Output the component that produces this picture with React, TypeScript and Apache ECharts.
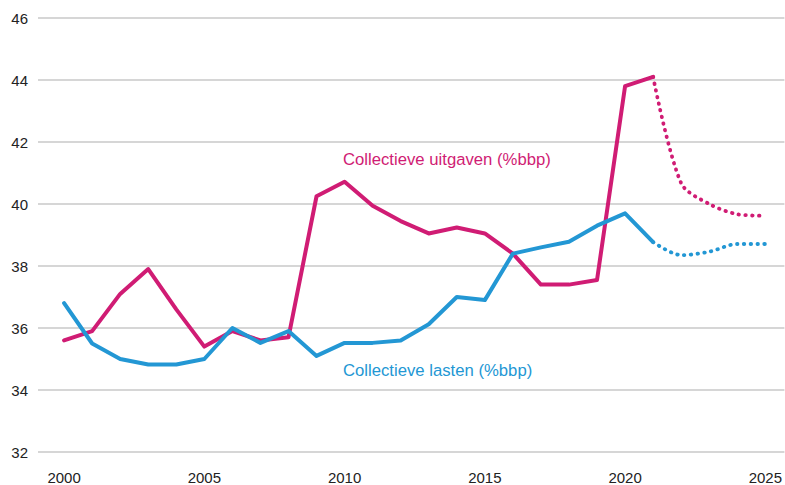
import React, { useEffect, useRef } from "react";
import * as echarts from "echarts";

const years = [2000, 2001, 2002, 2003, 2004, 2005, 2006, 2007, 2008, 2009, 2010, 2011, 2012, 2013, 2014, 2015, 2016, 2017, 2018, 2019, 2020, 2021];
const uitgaven = [35.6, 35.9, 37.1, 37.9, 36.6, 35.4, 35.9, 35.6, 35.7, 40.25, 40.72, 39.94, 39.45, 39.05, 39.24, 39.05, 38.4, 37.4, 37.4, 37.55, 43.8, 44.1];
const lasten = [36.8, 35.5, 35.0, 34.82, 34.82, 35.0, 36.0, 35.52, 35.9, 35.1, 35.52, 35.52, 35.6, 36.12, 37.0, 36.9, 38.4, 38.6, 38.78, 39.3, 39.7, 38.77];
const forecastYears = [2021, 2022, 2023, 2024, 2025];
const uitgavenForecast = [44.1, 40.67, 40.0, 39.67, 39.62];
const lastenForecast = [38.77, 38.35, 38.46, 38.71, 38.71];
const xTickLabels = [2000, 2005, 2010, 2015, 2020, 2025];
const yTicks = [32, 34, 36, 38, 40, 42, 44, 46];

const MAGENTA = "#d01c74";
const BLUE = "#2397d4";

export default function App() {
  const ref = useRef<HTMLDivElement>(null);
  useEffect(() => {
    if (!ref.current) return;
    const chart = echarts.init(ref.current, null, { renderer: "svg" });
    const pair = (xs: number[], ys: number[]) => xs.map((x, i) => [x, ys[i]]);
    chart.setOption({
      animation: false,
      grid: { left: 38, right: 0, top: 18, bottom: 33, containLabel: false },
      xAxis: {
        type: "value",
        min: 1999.07,
        max: 2025.68,
        axisLine: { show: false },
        axisTick: { show: false },
        splitLine: { show: false },
        axisLabel: {
          customValues: xTickLabels,
          margin: 18,
          fontSize: 15,
          color: "#222",
          fontFamily: "Liberation Sans, Arial, sans-serif",
          formatter: (v: number) => String(Math.round(v)),
        },
      },
      yAxis: {
        type: "value",
        min: 32,
        max: 46,
        interval: 2,
        axisLine: { show: false },
        axisTick: { show: false },
        axisLabel: {
          customValues: yTicks,
          margin: 10,
          fontSize: 15,
          color: "#222",
          fontFamily: "Liberation Sans, Arial, sans-serif",
        },
        splitLine: { lineStyle: { color: "#d6d6d6", width: 2 } },
      },
      series: [
        {
          type: "line",
          data: pair(years, uitgaven),
          showSymbol: false,
          lineStyle: { color: MAGENTA, width: 4, cap: "round", join: "round" },
        },
        {
          type: "line",
          data: pair(years, lasten),
          showSymbol: false,
          lineStyle: { color: BLUE, width: 4, cap: "round", join: "round" },
        },
        {
          type: "line",
          data: pair(forecastYears, uitgavenForecast),
          showSymbol: false,
          smooth: 0.3,
          lineStyle: { color: MAGENTA, width: 3.8, type: [0.5, 6.3], cap: "round" },
        },
        {
          type: "line",
          data: pair(forecastYears, lastenForecast),
          showSymbol: false,
          smooth: 0.3,
          lineStyle: { color: BLUE, width: 3.8, type: [0.5, 6.3], cap: "round" },
        },
      ],
      graphic: [
        {
          type: "text",
          x: 343,
          y: 159,
          style: {
            text: "Collectieve uitgaven (%bbp)",
            fill: MAGENTA,
            font: "16.7px 'Liberation Sans', Arial, sans-serif",
            verticalAlign: "middle",
          },
        },
        {
          type: "text",
          x: 343,
          y: 370,
          style: {
            text: "Collectieve lasten (%bbp)",
            fill: BLUE,
            font: "16.7px 'Liberation Sans', Arial, sans-serif",
            verticalAlign: "middle",
          },
        },
      ],
    });
    return () => chart.dispose();
  }, []);
  return <div ref={ref} style={{ width: 785, height: 485, position: "absolute", left: 0, top: 0 }} />;
}
